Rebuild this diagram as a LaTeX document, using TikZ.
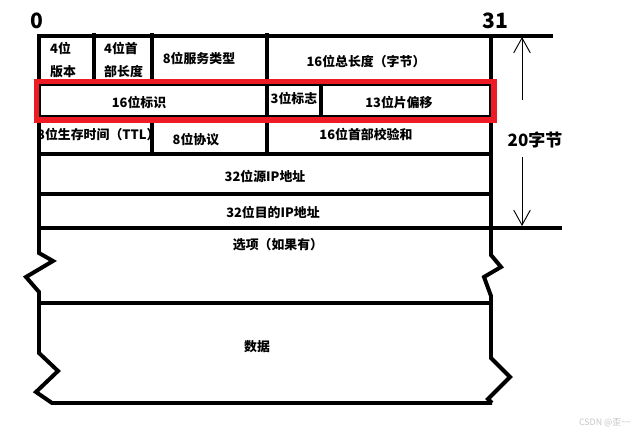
\documentclass[tikz,border=0pt]{standalone}
\usepackage{fontspec}
\newfontfamily\cjk{Noto Sans CJK SC}
\usetikzlibrary{arrows.meta}
\definecolor{paintred}{RGB}{237,28,36}

\begin{document}
\begin{tikzpicture}[x=0.03cm,y=-0.03cm,>={Straight Barb[length=4.5mm,width=5mm]},
 wall/.style={line width=3.4pt},
 thin wall/.style={line width=2.2pt},
 field/.style={font=\cjk\bfseries\fontsize{11}{13}\selectfont,inner sep=0pt},
 bitno/.style={font=\cjk\bfseries\fontsize{18}{20}\selectfont,inner sep=0pt}]
\useasboundingbox (0,0) rectangle (634,433);
\node[bitno] (bit0) at (37,21) {0};
\node[bitno] (bit31) at (495,21) {31};
\node[field,anchor=west] (ver) at (50,48) {4位};
\node[field,anchor=west] (verb) at (50,72) {版本};
\node[field,anchor=west] (ihl) at (104,48) {4位首};
\node[field,anchor=west] (ihlb) at (104,72) {部长度};
\node[field] (tos) at (199,58) {8位服务类型};
\node[field] (total) at (366,62) {16位总长度（字节）};
\node[field] (ident) at (139,102) {16位标识};
\node[field] (flags) at (294,98) {3位标志};
\node[field] (offset) at (399,103) {13位片偏移};
\node[field,anchor=west] (ttl) at (37,135) {8位生存时间（TTL）};
\node[field] (proto) at (196,140) {8位协议};
\node[field] (chksum) at (366,134) {16位首部校验和};
\node[field] (src) at (265,177) {32位源IP地址};
\node[field] (dst) at (273,212) {32位目的IP地址};
\node[field] (opts) at (278,245) {选项（如果有）};
\node[field] (data) at (257,347) {数据};
\node[font=\cjk\fontsize{14.5}{16}\selectfont\bfseries,inner sep=0pt] (bytes) at (535,140) {20字节};
\node[font=\cjk\fontsize{7.5}{9}\selectfont,text=gray!45,inner sep=0pt] (mark) at (605,423) {CSDN @歪\textasciitilde\textasciitilde};
\draw[wall] (37,36) -- (553,36);
\draw[wall] (39,36) -- (39,253) -- (53,261) -- (26,277) -- (39,292) -- (39,353) -- (58,371) -- (36,392) -- (52,403) -- (492,403);
\draw[wall] (491,36) -- (491,255) -- (501,267) -- (484,277) -- (491,296) -- (491,358) -- (510,377) -- (488,399) -- (492,403);
\foreach \y/\xr in {154/491,194/491,228/562,303/491}
 \draw[wall] (39,\y) -- (\xr,\y);
\foreach \x in {94,152}
 \draw[wall] (\x,33) -- (\x,80);
\draw[wall] (152,121) -- (152,154);
\draw[wall] (267,33) -- (267,154);
\draw[wall] (321,85) -- (321,117);
\draw[thin wall] (40,85) rectangle (490,116);
\draw[paintred,line width=4.3pt] (36.5,81.5) rectangle (494,120);
\coordinate (uptip) at (522,37);
\coordinate (upfoot) at (522,100);
\coordinate (downfoot) at (522,157);
\coordinate (downtip) at (522,226);
\draw[line width=0.8pt,->] (upfoot) -- (uptip);
\draw[line width=0.8pt,->] (downfoot) -- (downtip);
\end{tikzpicture}
\end{document}
